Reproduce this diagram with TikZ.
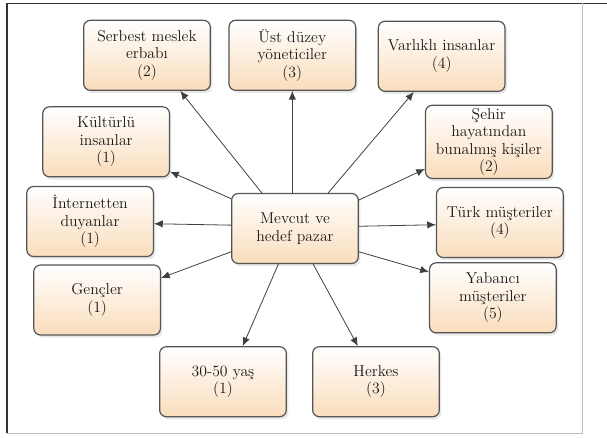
\documentclass[tikz,border=0pt]{standalone}
\usetikzlibrary{positioning,arrows.meta,shadows}
\definecolor{peach}{RGB}{250,221,188}
\definecolor{edgegray}{RGB}{85,85,85}
\tikzset{
    box/.style ={
        shape=rectangle,
        rounded corners=5pt,
        draw=edgegray,
        line width=0.9pt,
        top color=white,
        bottom color=peach,
        drop shadow={opacity=0.18,shadow xshift=1.5pt,shadow yshift=-2pt},
        text=black!90,
        align=center,
        font=\fontsize{11.8}{13.2}\selectfont,
        minimum width=95pt,
        minimum height=52.5pt,
        inner sep=2pt
    },
    arr/.style ={
        draw=black!75,
        line width=0.6pt,
        -{Latex[length=6.5pt,width=5.5pt]}
    }
}

\begin{document}
\begin{tikzpicture}
    \useasboundingbox (-221.25pt,171.375pt) rectangle (234pt,-156.375pt);
    % frame
    \draw[black!80,line width=0.8pt] (-216pt,-153.4pt) -- (-216pt,169.1pt) -- (234pt,169.1pt);
    \draw[black!25,line width=0.6pt] (215.25pt,169.1pt) -- (215.25pt,-153.4pt) -- (-216pt,-153.4pt);

    \node[box] (pazar) {Mevcut ve\\hedef pazar};
    \node[box,above=76.5pt of pazar,xshift=-111pt] (serbest) {Serbest meslek\\erbabı\\(2)};
    \node[box,above=76.5pt of pazar,xshift=-2pt] (ust) {Üst düzey\\yöneticiler\\(3)};
    \node[box,above=75.75pt of pazar,xshift=110pt] (varlikli) {Varlıklı insanlar\\(4)};
    \node[box,right=49.5pt of pazar,yshift=65pt] (sehir) {Şehir\\hayatından\\bunalmış kişiler\\(2)};
    \node[box,right=57.75pt of pazar,yshift=4.5pt] (turk) {Türk müşteriler\\(4)};
    \node[box,right=52.5pt of pazar,yshift=-52pt] (yabanci) {Yabancı\\müşteriler\\(5)};
    \node[box,below=61.5pt of pazar,xshift=60.75pt] (herkes) {Herkes\\(3)};
    \node[box,below=61.5pt of pazar,xshift=-54pt] (yas) {30-50 yaş\\(1)};
    \node[box,left=52.5pt of pazar,yshift=-53.6pt] (gencler) {Gençler\\(1)};
    \node[box,left=57.75pt of pazar,yshift=5.25pt] (internet) {İnternetten\\duyanlar\\(1)};
    \node[box,left=45.75pt of pazar,yshift=65pt] (kulturlu) {Kültürlü\\insanlar\\(1)};

    \draw[arr] (pazar.133) -- (serbest.-47);
    \draw[arr] (pazar.north -| ust) -- (ust);
    \draw[arr] (pazar.47) -- (varlikli.-128.6);
    \draw[arr] (pazar.24.3) -- (sehir.203.5);
    \draw[arr] (pazar.2.3) -- (turk.182);
    \draw[arr] (pazar.-20.5) -- (yabanci.158.7);
    \draw[arr] (pazar.-63.7) -- (herkes.117.2);
    \draw[arr] (pazar.-115) -- (yas.61.6);
    \draw[arr] (pazar.200.5) -- (gencler.19.8);
    \draw[arr] (pazar.177.7) -- (internet.-2.2);
    \draw[arr] (pazar.155.7) -- (kulturlu.-25.5);
\end{tikzpicture}
\end{document}
